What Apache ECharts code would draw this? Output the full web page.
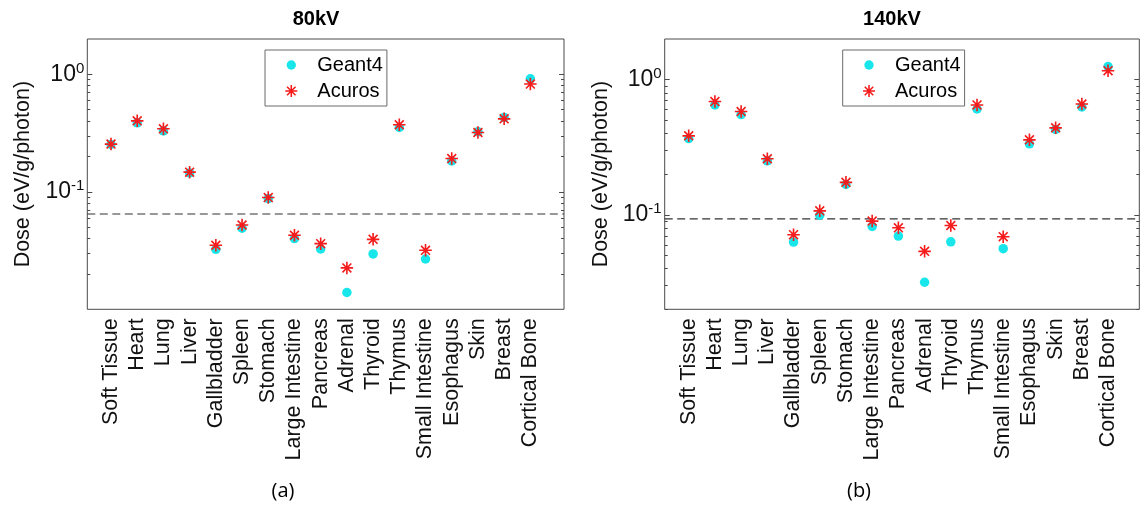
<!DOCTYPE html>
<html>
<head>
<meta charset="utf-8">
<script src="https://cdn.jsdelivr.net/npm/echarts@6/dist/echarts.min.js"></script>
<style>
html,body{margin:0;padding:0;background:#fff;}
#chart{width:1140px;height:506px;}
</style>
</head>
<body>
<div id="chart"></div>
<script>
// ---------------- data ----------------
const categories = ['Soft Tissue','Heart','Lung','Liver','Gallbladder','Spleen','Stomach','Large Intestine','Pancreas','Adrenal','Thyroid','Thymus','Small Intestine','Esophagus','Skin','Breast','Cortical Bone'];
const geant4_80kV  = [0.253,0.387,0.330,0.145,0.0324,0.049,0.0877,0.040,0.0326,0.0139,0.0296,0.353,0.0268,0.183,0.324,0.430,0.917];
const acuros_80kV  = [0.255,0.402,0.344,0.147,0.0351,0.0522,0.0894,0.0427,0.0362,0.0225,0.0394,0.372,0.0318,0.192,0.320,0.418,0.827];
const geant4_140kV = [0.367,0.650,0.552,0.251,0.0629,0.0995,0.168,0.082,0.0697,0.0317,0.0632,0.607,0.0562,0.335,0.428,0.628,1.25];
const acuros_140kV = [0.384,0.689,0.581,0.260,0.0713,0.107,0.174,0.0899,0.0802,0.0537,0.0834,0.650,0.0689,0.359,0.440,0.661,1.165];
const threshold_80kV = 0.0648;
const threshold_140kV = 0.0934;
const yRange_80kV = [0.01, 2];
const yRange_140kV = [0.02, 2];
const yMajorTicks = [0.1, 1];
const yMinorTicks = [0.02,0.03,0.04,0.05,0.06,0.07,0.08,0.09,0.2,0.3,0.4,0.5,0.6,0.7,0.8,0.9];
const titles = ['80kV', '140kV'];
const panelLabels = ['(a)', '(b)'];
const yName = 'Dose (eV/g/photon)';
const seriesNames = ['Geant4', 'Acuros'];

// ---------------- styles ----------------
const FF = '"Liberation Sans", Arial, sans-serif';
const AX = '#4a4a4a';
const TXT = '#111';
const CYAN = '#18e6ea';
const RED = '#f41c1c';
const STAR = 'path://M0 43.5L100 43.5L100 56.5L0 56.5Z M43.5 0L56.5 0L56.5 100L43.5 100Z M10 19.2L19.2 10L90 80.8L80.8 90Z M19.2 90L10 80.8L80.8 10L90 19.2Z';
const CIRCLE_PAD = 'path://M0 0M100 100M89 50A39 39 0 1 1 11 50A39 39 0 1 1 89 50Z';

const SP = 26.21;          // category spacing in px
const TOP = 39, HEIGHT = 270.3;

const panels = [
  {frameL: 87.3, frameR: 564, firstTick: 111.0, range: yRange_80kV, g: geant4_80kV, a: acuros_80kV, thr: threshold_80kV, titleX: 316, labelX: 283, legendL: 265},
  {frameL: 664.7, frameR: 1139.3, firstTick: 688.7, range: yRange_140kV, g: geant4_140kV, a: acuros_140kV, thr: threshold_140kV, titleX: 892, labelX: 859, legendL: 842.7}
];

const grid = [], xAxis = [], yAxis = [], series = [], legend = [], title = [];

function yLabelFmt(v) {
  const e = Math.round(Math.log10(v));
  return '{b|10}{s|' + e + '}';
}

panels.forEach((p, ci) => {
  const gB = ci * 2, gA = ci * 2 + 1;
  const xb = xAxis.length, yb = yAxis.length;
  grid.push({left: p.frameL, width: p.frameR - p.frameL, top: TOP, height: HEIGHT, show: true, borderColor: AX, borderWidth: 1, backgroundColor: 'transparent'});
  grid.push({left: p.firstTick - SP / 2, width: SP * categories.length, top: TOP, height: HEIGHT});

  // x axes
  xAxis.push({type: 'value', gridIndex: gB, min: 0, max: 1, show: false});
  xAxis.push({type: 'category', gridIndex: gA, data: categories, position: 'bottom',
    axisLine: {show: false},
    axisTick: {inside: true, length: 5, alignWithLabel: true, interval: 0, lineStyle: {color: AX}},
    axisLabel: {rotate: 90, margin: 9, interval: 0, fontSize: 21.5, fontFamily: FF, color: TXT},
    splitLine: {show: false}});
  xAxis.push({type: 'category', gridIndex: gA, data: categories, position: 'top',
    axisLine: {show: false},
    axisTick: {inside: true, length: 5, alignWithLabel: true, interval: 0, lineStyle: {color: AX}},
    axisLabel: {show: false}, splitLine: {show: false}});

  // y axes
  const base = {type: 'log', logBase: 10, min: p.range[0], max: p.range[1], gridIndex: gB,
    axisLine: {show: false}, splitLine: {show: false}, minorTick: {show: false}};
  yAxis.push(Object.assign({}, base, {position: 'left',
    axisTick: {inside: true, length: 5, customValues: yMajorTicks, lineStyle: {color: AX}},
    axisLabel: {customValues: yMajorTicks, margin: 3, formatter: yLabelFmt,
      rich: {b: {fontSize: 23, fontFamily: FF, color: TXT, lineHeight: 26},
             s: {fontSize: 15, fontFamily: FF, color: TXT, lineHeight: 15, verticalAlign: 'top'}}},
    name: yName, nameLocation: 'middle', nameGap: 53,
    nameTextStyle: {fontSize: 21.5, fontFamily: FF, color: TXT}}));
  yAxis.push(Object.assign({}, base, {position: 'left',
    axisTick: {inside: true, length: 3, customValues: yMinorTicks, lineStyle: {color: AX}},
    axisLabel: {show: false}}));
  yAxis.push(Object.assign({}, base, {position: 'right',
    axisTick: {inside: true, length: 5, customValues: yMajorTicks, lineStyle: {color: AX}},
    axisLabel: {show: false}}));
  yAxis.push(Object.assign({}, base, {position: 'right',
    axisTick: {inside: true, length: 3, customValues: yMinorTicks, lineStyle: {color: AX}},
    axisLabel: {show: false}}));
  yAxis.push({type: 'log', logBase: 10, min: p.range[0], max: p.range[1], gridIndex: gA, show: false});

  // series
  series.push({type: 'line', xAxisIndex: xb, yAxisIndex: yb, data: [[0, p.thr], [1, p.thr]],
    symbol: 'none', silent: true, z: 1,
    lineStyle: {color: '#333', width: 1.1, type: [8, 4.5]}});
  series.push({type: 'scatter', name: seriesNames[0], xAxisIndex: xb + 1, yAxisIndex: yb + 4,
    data: p.g, symbol: 'circle', symbolSize: 9.5, itemStyle: {color: CYAN, opacity: 1}, z: 2});
  series.push({type: 'scatter', name: seriesNames[1], xAxisIndex: xb + 1, yAxisIndex: yb + 4,
    data: p.a, symbol: STAR, symbolSize: 12.5, itemStyle: {color: RED, opacity: 1}, z: 3});

  legend.push({left: p.legendL, top: 50, orient: 'vertical', padding: [5, 4, 5, 20.3],
    itemWidth: 42, itemHeight: 12, itemGap: 6, borderColor: '#6a6a6a', borderWidth: 1,
    backgroundColor: '#fff', selectedMode: false,
    textStyle: {fontSize: 20, fontFamily: FF, color: '#000', lineHeight: 20},
    data: [{name: seriesNames[0], icon: CIRCLE_PAD}, {name: seriesNames[1], icon: STAR}]});

  title.push({text: titles[ci], left: p.titleX, top: 9, textAlign: 'center', padding: 0,
    textStyle: {fontSize: 20, fontWeight: 'bold', fontFamily: FF, color: '#000'}});
  title.push({text: panelLabels[ci], left: p.labelX, top: 481, textAlign: 'center', padding: 0,
    textStyle: {fontSize: 20, fontWeight: 'normal', fontFamily: '"Open Sans", sans-serif', color: '#000'}});
});

const chart = echarts.init(document.getElementById('chart'), null, {renderer: 'canvas'});
chart.setOption({
  animation: false,
  backgroundColor: '#fff',
  title, grid, xAxis, yAxis, series, legend
});
</script>
</body>
</html>
